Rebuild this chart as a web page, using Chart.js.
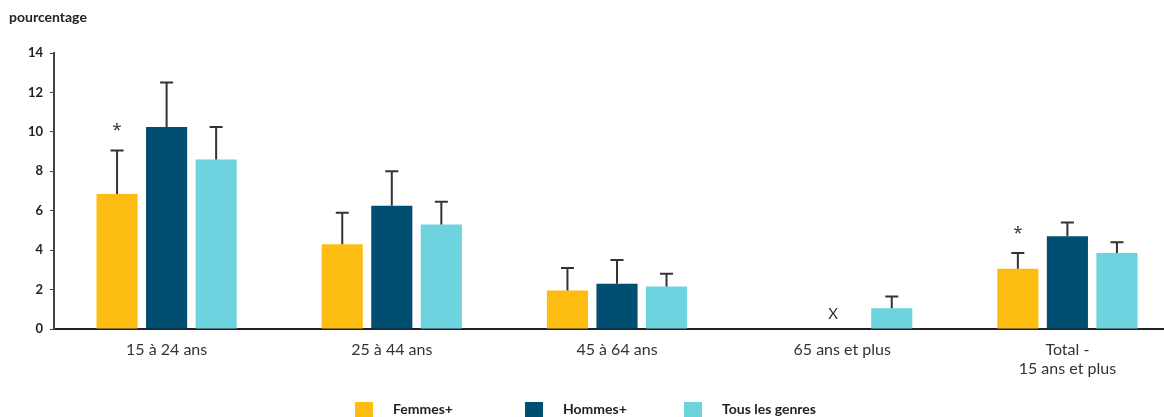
<!DOCTYPE html>
<html lang="fr">
<head>
<meta charset="utf-8">
<title>Pourcentage par groupe d'âge et genre</title>
<script src="https://cdn.jsdelivr.net/npm/chart.js@4"></script>
<style>
  html, body { margin: 0; padding: 0; background: #fff; overflow: hidden; }
  body { font-family: Lato, "Noto Sans", sans-serif; color: #222; }
  #wrap { position: relative; width: 1180px; height: 417px; }
  #unit { position: absolute; left: 9px; top: 8px; font-weight: bold; font-size: 14px; color: #222; }
  #legend { position: absolute; top: 401px; left: 0; width: 1164px; height: 16px; }
  #legend span { position: absolute; top: 0; font-weight: bold; font-size: 14px; line-height: 16px; color: #222; }
  #legend i { position: absolute; top: 1px; width: 18px; height: 16px; }
</style>
</head>
<body>
<div id="wrap">
  <canvas id="chart" width="1180" height="417"></canvas>
  <div id="unit">pourcentage</div>
  <div id="legend"></div>
</div>
<script>
const categories = ['15 à 24 ans', '25 à 44 ans', '45 à 64 ans', '65 ans et plus', ['Total -', '15 ans et plus']];
const seriesNames = ['Femmes+', 'Hommes+', 'Tous les genres'];
const seriesColors = ['#fdbc11', '#004e71', '#6dd3df'];

const femmes = [6.85, 4.3, 1.95, null, 3.05];
const hommes = [10.25, 6.25, 2.3, null, 4.7];
const tous = [8.6, 5.3, 2.15, 1.05, 3.85];

const femmesHigh = [9.05, 5.9, 3.1, null, 3.85];
const hommesHigh = [12.5, 8.0, 3.5, null, 5.4];
const tousHigh = [10.25, 6.45, 2.8, 1.65, 4.4];

// marks printed above bars: * = use with caution, X = suppressed
const femmesNote = ['*', '', '', '', '*'];
const hommesNote = ['', '', '', 'X', ''];

const yTicks = [0, 2, 4, 6, 8, 10, 12, 14];

const highs = [femmesHigh, hommesHigh, tousHigh];
const notes = [femmesNote, hommesNote, ['', '', '', '', '']];

const errorBars = {
  id: 'errorBars',
  afterDatasetsDraw(chart) {
    const ctx = chart.ctx;
    const y = chart.scales.y;
    ctx.save();
    chart.data.datasets.forEach((ds, d) => {
      const meta = chart.getDatasetMeta(d);
      meta.data.forEach((bar, i) => {
        const hi = highs[d][i];
        const note = notes[d][i];
        let topY = bar.y;
        if (hi != null && ds.data[i] != null) {
          const yh = y.getPixelForValue(hi);
          ctx.strokeStyle = '#333';
          ctx.lineWidth = 2;
          ctx.beginPath();
          ctx.moveTo(bar.x, bar.y);
          ctx.lineTo(bar.x, yh);
          ctx.moveTo(bar.x - 6.5, yh);
          ctx.lineTo(bar.x + 6.5, yh);
          ctx.stroke();
          topY = yh;
        }
        if (note) {
          ctx.fillStyle = '#333';
          ctx.textAlign = 'center';
          ctx.textBaseline = 'middle';
          if (note === 'X') {
            ctx.font = '15px Lato, "Noto Sans", sans-serif';
            ctx.fillText(note, bar.x - 9, y.getPixelForValue(0) - 15);
          } else {
            ctx.font = '17px "Noto Sans", sans-serif';
            ctx.fillText(note, bar.x, topY - 20);
          }
        }
      });
    });
    ctx.restore();
  }
};

const legend = document.getElementById('legend');
const legendX = [355, 525, 684];
seriesNames.forEach((name, i) => {
  const box = document.createElement('i');
  box.style.left = legendX[i] + 'px';
  box.style.background = seriesColors[i];
  const txt = document.createElement('span');
  txt.style.left = (legendX[i] + 38) + 'px';
  txt.textContent = name;
  legend.appendChild(box);
  legend.appendChild(txt);
});

new Chart(document.getElementById('chart'), {
  type: 'bar',
  data: {
    labels: categories,
    datasets: [femmes, hommes, tous].map((values, i) => ({
      label: seriesNames[i],
      data: values,
      backgroundColor: seriesColors[i],
      categoryPercentage: 0.66,
      barPercentage: 0.83,
    })),
  },
  options: {
    responsive: false,
    animation: false,
    layout: { padding: { top: 53, left: 0, right: 0, bottom: 28 } },
    plugins: {
      legend: { display: false },
      tooltip: { enabled: false },
    },
    scales: {
      x: {
        afterFit(scale) { scale.height = 60; },
        grid: { display: false, drawTicks: false },
        border: { color: '#222', width: 2 },
        ticks: {
          padding: 12,
          color: '#333',
          font: { family: 'Lato, "Noto Sans", sans-serif', size: 16, lineHeight: 1.15 },
        },
      },
      y: {
        min: 0,
        max: 14,
        afterFit(scale) { scale.width = 54; },
        afterBuildTicks(scale) { scale.ticks = yTicks.map(v => ({ value: v })); },
        grid: { drawOnChartArea: false, tickLength: 4, color: '#444' },
        border: { color: '#444', width: 2 },
        ticks: {
          padding: 7,
          color: '#222',
          font: { family: 'Lato, "Noto Sans", sans-serif', size: 13, weight: 'bold' },
        },
      },
    },
  },
  plugins: [errorBars],
});
</script>
</body>
</html>
